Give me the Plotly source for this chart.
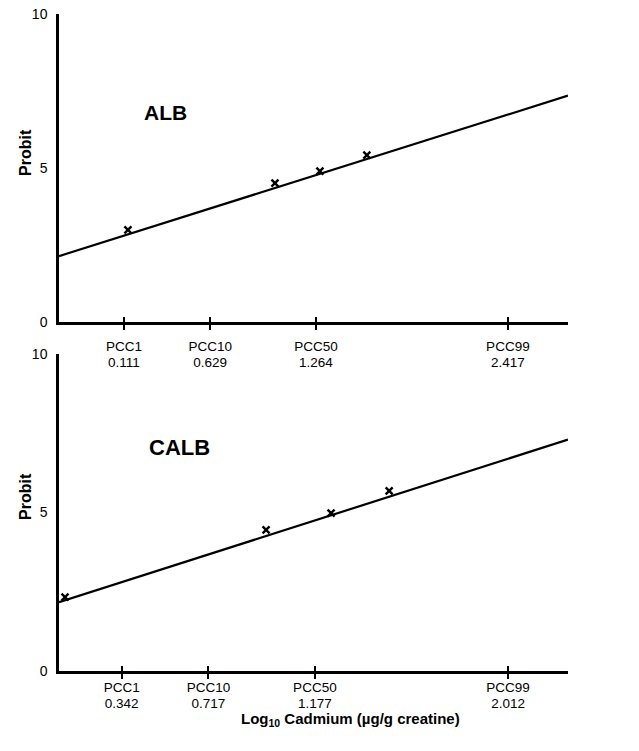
import plotly.graph_objects as go

# ---------------- data ----------------
pcc_names = ["PCC1", "PCC10", "PCC50", "PCC99"]

alb_pcc_values = [0.111, 0.629, 1.264, 2.417]
calb_pcc_values = [0.342, 0.717, 1.177, 2.012]

alb_log_cd = [0.135, 1.018, 1.288, 1.570]
alb_probit = [2.99, 4.51, 4.90, 5.42]

calb_log_cd = [0.097, 0.966, 1.247, 1.498]
calb_probit = [2.33, 4.45, 4.98, 5.68]

alb_fit_log_cd = [-0.279, 2.778]
alb_fit_probit = [2.14, 7.35]

calb_fit_log_cd = [0.071, 2.271]
calb_fit_probit = [2.17, 7.30]

probit_ticks = [0, 5, 10]

# ---------------- layout geometry ----------------
PAGE_MARGIN = 8          # default <body> margin of the html page
W, H = 639 - 2 * PAGE_MARGIN, 751 - 2 * PAGE_MARGIN
FONT = "Liberation Sans, Arial, Helvetica, sans-serif"

def px(x):
    return (x - PAGE_MARGIN) / W

def py(y):
    return 1 - (y - PAGE_MARGIN) / H

x_dom = [px(59), px(568)]
top_dom = [py(322), py(14)]
bot_dom = [py(671), py(354)]

alb_range = [-0.279, 2.778]
calb_range = [0.071, 2.271]

fig = go.Figure()

# fitted lines
fig.add_trace(go.Scatter(x=alb_fit_log_cd, y=alb_fit_probit, mode="lines",
                         line=dict(color="black", width=2.2),
                         xaxis="x", yaxis="y", showlegend=False, hoverinfo="skip"))
fig.add_trace(go.Scatter(x=calb_fit_log_cd, y=calb_fit_probit, mode="lines",
                         line=dict(color="black", width=2.2),
                         xaxis="x2", yaxis="y2", showlegend=False, hoverinfo="skip"))

# observed points
mk = dict(symbol="x-thin", size=7, color="black", line=dict(color="black", width=2.4))
fig.add_trace(go.Scatter(x=alb_log_cd, y=alb_probit, mode="markers", marker=mk,
                         xaxis="x", yaxis="y", showlegend=False))
fig.add_trace(go.Scatter(x=calb_log_cd, y=calb_probit, mode="markers", marker=mk,
                         xaxis="x2", yaxis="y2", showlegend=False))

# invisible traces carrying the overlay axes (value labels under the PCC names)
fig.add_trace(go.Scatter(x=alb_pcc_values, y=[-5] * 4, mode="markers",
                         marker=dict(opacity=0), xaxis="x3", yaxis="y",
                         showlegend=False, hoverinfo="skip"))
fig.add_trace(go.Scatter(x=calb_pcc_values, y=[-5] * 4, mode="markers",
                         marker=dict(opacity=0), xaxis="x4", yaxis="y2",
                         showlegend=False, hoverinfo="skip"))

tick_font = dict(family=FONT, size=13.5, color="black")

def name_axis(vals, rng, anchor, standoff):
    return dict(domain=x_dom, anchor=anchor, range=rng, autorange=False,
                tickmode="array", tickvals=vals, ticktext=pcc_names,
                ticks="outside", ticklen=5, tickwidth=1.5, tickcolor="black",
                showline=True, linewidth=2.5, linecolor="black",
                showgrid=False, zeroline=False, tickfont=tick_font,
                ticklabelstandoff=standoff, ticklabeloverflow="allow")

def value_axis(vals, rng, overlay, anchor, standoff):
    return dict(overlaying=overlay, anchor=anchor,
                side="bottom", range=rng, autorange=False,
                tickmode="array", tickvals=vals,
                ticktext=[f"{v:.3f}" for v in vals],
                ticks="inside", ticklen=5, tickwidth=1.5, tickcolor="black",
                showline=False, showgrid=False, zeroline=False,
                tickfont=tick_font, ticklabelstandoff=standoff,
                ticklabeloverflow="allow")

def probit_axis(dom, anchor):
    return dict(domain=dom, anchor=anchor, range=[0, 10], autorange=False,
                tickmode="array", tickvals=probit_ticks,
                ticktext=[str(t) for t in probit_ticks],
                ticks="", showline=True, linewidth=2.5, linecolor="black",
                showgrid=False, zeroline=False,
                tickfont=dict(family=FONT, size=14, color="black"),
                ticklabelstandoff=6, ticklabeloverflow="allow")

fig.update_layout(
    width=W, height=H,
    margin=dict(l=0, r=0, t=0, b=0, autoexpand=False),
    paper_bgcolor="white", plot_bgcolor="white",
    font=dict(family=FONT, color="black"),
    xaxis=name_axis(alb_pcc_values, alb_range, "y", 5),
    yaxis=probit_axis(top_dom, "x"),
    xaxis2=name_axis(calb_pcc_values, calb_range, "y2", -3),
    yaxis2=probit_axis(bot_dom, "x2"),
    xaxis3=value_axis(alb_pcc_values, alb_range, "x", "y", 30),
    xaxis4=value_axis(calb_pcc_values, calb_range, "x2", "y2", 22),
    showlegend=False,
)

annots = [
    dict(text="<b>ALB</b>", x=px(165), y=py(112), size=21),
    dict(text="<b>CALB</b>", x=px(179), y=py(447), size=22),
    dict(text="<b>Probit</b>", x=px(25), y=py(153), size=16, angle=-90),
    dict(text="<b>Probit</b>", x=px(25), y=py(497), size=16, angle=-90),
    dict(text="<b>Log<sub>10</sub> Cadmium (\u00b5g/g creatine)</b>",
         x=px(350), y=py(719), size=15),
]
for a in annots:
    fig.add_annotation(text=a["text"], x=a["x"], y=a["y"], xref="paper", yref="paper",
                       xanchor="center", yanchor="middle", showarrow=False,
                       textangle=a.get("angle", 0),
                       font=dict(family=FONT, size=a["size"], color="black"))

fig.write_html("out.html")
